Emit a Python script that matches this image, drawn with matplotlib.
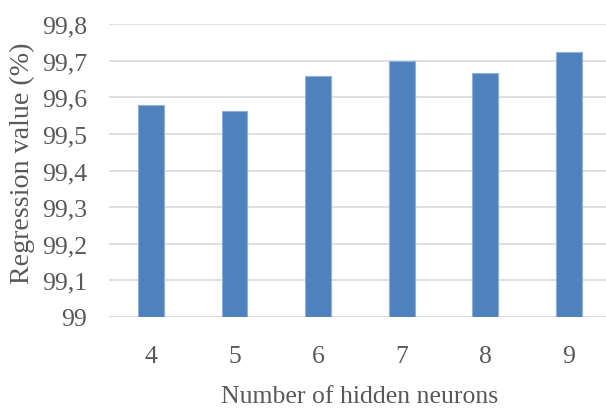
import matplotlib
matplotlib.use("Agg")
import matplotlib.pyplot as plt
from matplotlib.ticker import FuncFormatter, MultipleLocator

# regression value for each hidden-layer size
neurons = ["4", "5", "6", "7", "8", "9"]
regression = [99.578, 99.562, 99.658, 99.698, 99.666, 99.723]

plt.rcParams['font.family'] = ['Liberation Serif', 'DejaVu Serif']
txt = '#595959'

fig = plt.figure(figsize=(6.06, 4.10), dpi=100)
ax = fig.add_axes([0.180, 0.2244, 0.828, 0.7146])

x = range(len(neurons))
ax.bar(x, [v - 99 for v in regression], bottom=99, width=0.31,
       color='#4f81bd', edgecolor='#8eb0dc', linewidth=0.8, zorder=3)

ax.set_xlim(-0.5, len(neurons) - 0.5)
ax.set_ylim(99, 99.8)
ax.yaxis.set_major_locator(MultipleLocator(0.1))
ax.yaxis.set_major_formatter(FuncFormatter(lambda v, p: f"{round(v, 1):g}".replace('.', ',')))
ax.set_xticks(list(x))
ax.set_xticklabels(neurons)

ax.grid(axis='y', color='#d9d9d9', linewidth=1.2, zorder=0)
for s in ax.spines.values():
    s.set_visible(False)
ax.axhline(99, color='#d9d9d9', linewidth=1.2, zorder=1)

ax.tick_params(axis='both', length=0, labelsize=18.5, labelcolor=txt)
ax.tick_params(axis='y', pad=16)
ax.tick_params(axis='x', pad=20)

ax.set_xlabel("Number of hidden neurons", fontsize=18.5, color=txt, labelpad=13)
# y title sits a little above the plot's middle
fig.text(22 / 606, 1 - 163 / 410, "Regression value (%)", rotation=90,
         ha='center', va='center', fontsize=20.2, color=txt)

fig.savefig("out.png", dpi=100)
